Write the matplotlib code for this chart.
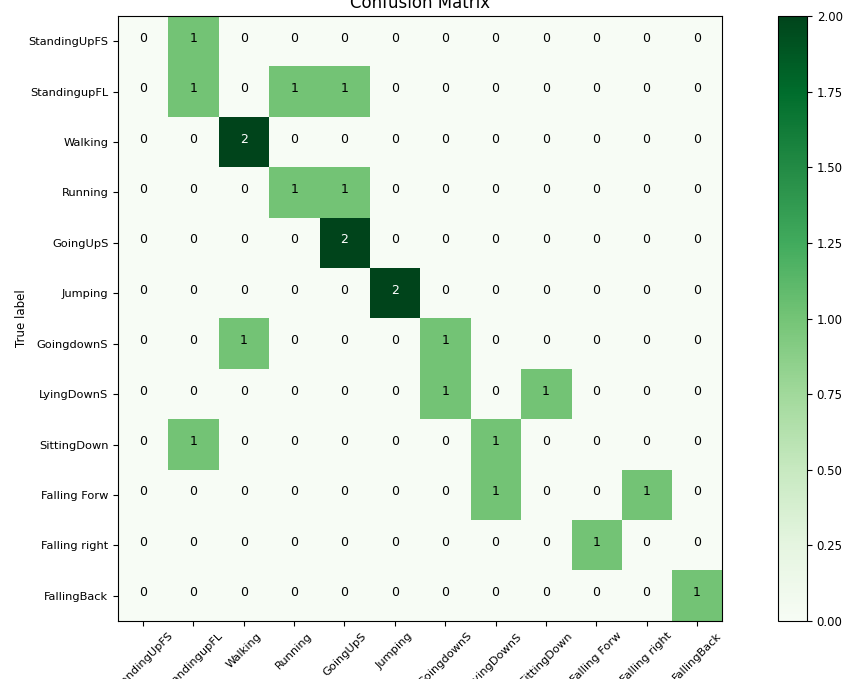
import matplotlib
matplotlib.use("Agg")
import matplotlib.pyplot as plt
import numpy as np

classes = ["StandingUpFS", "StandingupFL", "Walking", "Running", "GoingUpS",
           "Jumping", "GoingdownS", "LyingDownS", "SittingDown", "Falling Forw",
           "Falling right", "FallingBack"]

cm = np.array([
    [0, 1, 0, 0, 0, 0, 0, 0, 0, 0, 0, 0],
    [0, 1, 0, 1, 1, 0, 0, 0, 0, 0, 0, 0],
    [0, 0, 2, 0, 0, 0, 0, 0, 0, 0, 0, 0],
    [0, 0, 0, 1, 1, 0, 0, 0, 0, 0, 0, 0],
    [0, 0, 0, 0, 2, 0, 0, 0, 0, 0, 0, 0],
    [0, 0, 0, 0, 0, 2, 0, 0, 0, 0, 0, 0],
    [0, 0, 1, 0, 0, 0, 1, 0, 0, 0, 0, 0],
    [0, 0, 0, 0, 0, 0, 1, 0, 1, 0, 0, 0],
    [0, 1, 0, 0, 0, 0, 0, 1, 0, 0, 0, 0],
    [0, 0, 0, 0, 0, 0, 0, 1, 0, 0, 1, 0],
    [0, 0, 0, 0, 0, 0, 0, 0, 0, 1, 0, 0],
    [0, 0, 0, 0, 0, 0, 0, 0, 0, 0, 0, 1],
])

fig = plt.figure(figsize=(8.65, 6.79), dpi=100)
ax = fig.add_axes([0.1364, 0.0854, 0.6983, 0.891])
cax = fig.add_axes([0.8994, 0.0854, 0.0335, 0.891])

im = ax.imshow(cm, interpolation='nearest', cmap=plt.cm.Greens, aspect='auto')
ax.set_title("Confusion Matrix")
cbar = fig.colorbar(im, cax=cax)
cbar.ax.tick_params(labelsize=8.5)

ticks = np.arange(len(classes))
ax.set_xticks(ticks)
ax.set_xticklabels(classes, rotation=45, fontsize=8.2)
ax.set_yticks(ticks)
ax.set_yticklabels(classes, fontsize=8.2)

thresh = cm.max() / 2.
for i in range(cm.shape[0]):
    for j in range(cm.shape[1]):
        ax.text(j, i - 0.06, format(cm[i, j], 'd'),
                horizontalalignment="center", verticalalignment="center",
                fontsize=9,
                color="white" if cm[i, j] > thresh else "black")

ax.set_ylabel("True label", fontsize=8.5, labelpad=0)
ax.set_xlabel("Predicted label", fontsize=8.5)

fig.savefig("out.png", dpi=100)
